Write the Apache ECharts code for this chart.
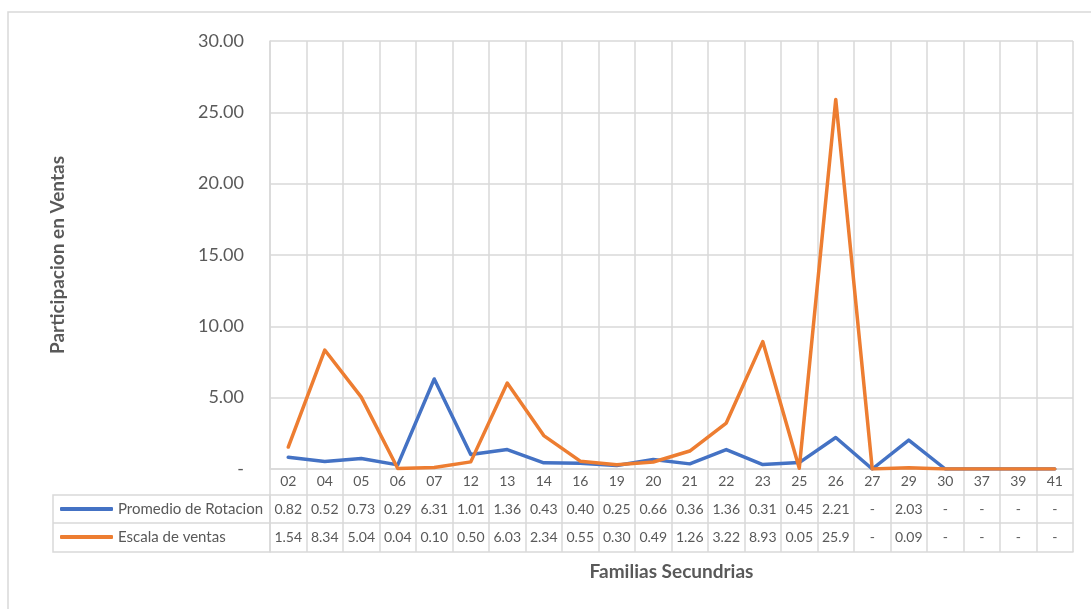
<!DOCTYPE html>
<html>
<head>
<meta charset="utf-8">
<script src="https://cdn.jsdelivr.net/npm/echarts@6/dist/echarts.min.js"></script>
<style>
  html, body { margin: 0; padding: 0; background: #fff; }
  #chart { width: 1091px; height: 609px; }
</style>
</head>
<body>
<div id="chart"></div>
<script>
// Familias secundarias (categorías del eje X)
const familias = ['02','04','05','06','07','12','13','14','16','19','20','21','22','23','25','26','27','29','30','37','39','41'];
// Promedio de Rotacion por familia
const promedioRotacion = [0.82,0.52,0.73,0.29,6.31,1.01,1.36,0.43,0.40,0.25,0.66,0.36,1.36,0.31,0.45,2.21,0,2.03,0,0,0,0];
// Escala de ventas por familia
const escalaVentas = [1.54,8.34,5.04,0.04,0.10,0.50,6.03,2.34,0.55,0.30,0.49,1.26,3.22,8.93,0.05,25.9,0,0.09,0,0,0,0];
const nombres = ['Promedio de Rotacion', 'Escala de ventas'];

// Layout
const W = 1091, H = 609;
const plotLeft = 270, plotRight = 1073, plotTop = 41, plotBottom = 469;
const rowH = [26, 28, 29];          // fila de categorías, fila 1, fila 2
const tableLeft = 53;
const gridColor = '#d9d9d9';
const textColor = '#595959';
const font = 'Lato, "Open Sans", sans-serif';
const colors = ['#4472C4', '#ED7D31'];

// Formato estilo contable: cero como guion
function fmt(v) {
  if (v === 0) return '-';
  return v >= 10 ? v.toFixed(1) : v.toFixed(2);
}

const row1Y = plotBottom + rowH[0];
const row2Y = row1Y + rowH[1];
const tableBottom = row2Y + rowH[2];

const chart = echarts.init(document.getElementById('chart'), null, { renderer: 'canvas' });

const rowAxis = (offset, values) => ({
  type: 'category',
  data: familias,
  position: 'bottom',
  offset: offset,
  boundaryGap: true,
  axisLine: { show: true, lineStyle: { color: gridColor, width: 1.5 } },
  axisTick: { show: false },
  splitLine: { show: false },
  axisLabel: values ? {
    interval: 0, margin: 7, color: textColor, fontFamily: font, fontSize: 14,
    formatter: (val, idx) => fmt(values[idx])
  } : { show: false }
});

const titleStyle = { color: textColor, fontFamily: font, fontSize: 19, fontWeight: 'bold' };

const option = {
  backgroundColor: '#fff',
  animation: false,
  color: colors,
  grid: { left: plotLeft, right: W - plotRight, top: plotTop, bottom: H - plotBottom, containLabel: false },
  legend: {
    orient: 'vertical',
    left: 55,
    top: row1Y,
    itemWidth: 53,
    itemHeight: 4,
    itemGap: 10,
    icon: 'roundRect',
    textStyle: { color: textColor, fontFamily: font, fontSize: 15, lineHeight: 18 },
    data: nombres
  },
  xAxis: [
    {
      type: 'category',
      data: familias,
      boundaryGap: true,
      axisLine: { show: true, lineStyle: { color: gridColor, width: 1.5 } },
      axisTick: { show: true, interval: 0, length: tableBottom - plotBottom, lineStyle: { color: gridColor, width: 1.5 } },
      splitLine: { show: true, interval: 0, lineStyle: { color: gridColor, width: 1.5 } },
      axisLabel: { interval: 0, margin: 5, color: textColor, fontFamily: font, fontSize: 14 }
    },
    rowAxis(rowH[0], promedioRotacion),
    rowAxis(rowH[0] + rowH[1], escalaVentas),
    Object.assign(rowAxis(rowH[0] + rowH[1] + rowH[2], null), {
      name: 'Familias Secundrias',
      nameLocation: 'middle',
      nameGap: 10,
      nameTextStyle: titleStyle
    })
  ],
  yAxis: {
    type: 'value',
    min: 0, max: 30, interval: 5,
    name: 'Participacion en Ventas',
    nameLocation: 'middle',
    nameGap: 203,
    nameTextStyle: titleStyle,
    axisLine: { show: true, lineStyle: { color: gridColor, width: 1.5 } },
    axisTick: { show: false },
    splitLine: { show: true, lineStyle: { color: gridColor, width: 1.5 } },
    axisLabel: {
      margin: 26, color: textColor, fontFamily: font, fontSize: 18,
      formatter: v => v === 0 ? '-' : v.toFixed(2)
    }
  },
  series: [
    { name: nombres[0], type: 'line', data: promedioRotacion, showSymbol: false, symbol: 'none',
      lineStyle: { width: 3.5, color: colors[0], cap: 'round', join: 'round' }, z: 3 },
    { name: nombres[1], type: 'line', data: escalaVentas, showSymbol: false, symbol: 'none',
      lineStyle: { width: 3.5, color: colors[1], cap: 'round', join: 'round' }, z: 4 }
  ],
  graphic: [
    // marco exterior del gráfico
    { type: 'rect', shape: { x: 8, y: 12, width: W + 20, height: H + 20 }, silent: true,
      style: { fill: 'none', stroke: gridColor, lineWidth: 1.5 } },
    // columna de leyenda de la tabla de datos
    { type: 'rect', shape: { x: tableLeft, y: row1Y, width: plotLeft - tableLeft, height: tableBottom - row1Y }, silent: true,
      style: { fill: 'none', stroke: gridColor, lineWidth: 1.5 } },
    { type: 'line', shape: { x1: tableLeft, y1: row2Y, x2: plotLeft, y2: row2Y }, silent: true,
      style: { stroke: gridColor, lineWidth: 1.5 } }
  ]
};

chart.setOption(option);
</script>
</body>
</html>
